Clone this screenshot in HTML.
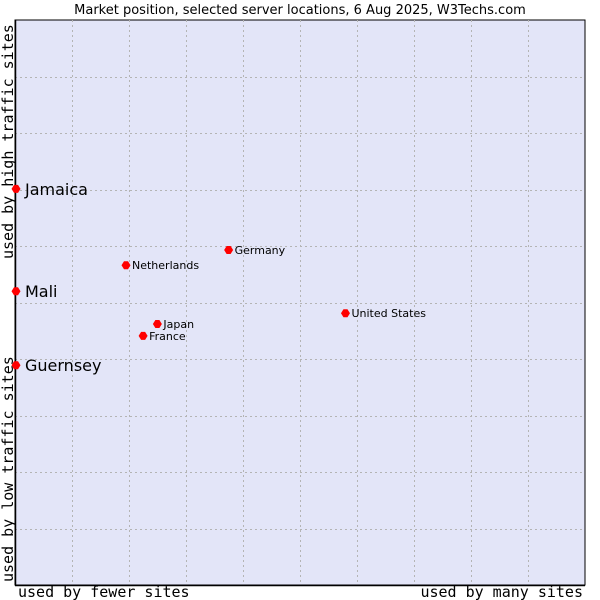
<!DOCTYPE html>
<html><head><meta charset="utf-8"><style>
body{margin:0;background:#fff;}
svg{display:block;}
</style></head><body>
<svg id="chart" width="600" height="600" xmlns="http://www.w3.org/2000/svg">
<rect width="600" height="600" fill="#fff"/>
<text x="300" y="14" text-anchor="middle" font-family="DejaVu Sans, Liberation Sans, sans-serif" font-size="13">Market position, selected server locations, 6 Aug 2025, W3Techs.com</text>
<rect x="15" y="20" width="570" height="565" fill="#e3e5f8" stroke="#000" stroke-width="1"/>
<g id="grid"></g>
<line x1="15.5" y1="20" x2="15.5" y2="585" stroke="#000" stroke-width="1.5"/>
<line x1="15" y1="585.5" x2="585" y2="585.5" stroke="#000" stroke-width="1.5"/>
<g id="marks"></g>
<text x="18" y="597" font-family="DejaVu Sans Mono, Liberation Mono, monospace" font-size="15">used by fewer sites</text>
<text x="583" y="597" text-anchor="end" font-family="DejaVu Sans Mono, Liberation Mono, monospace" font-size="15">used by many sites</text>
<text transform="translate(13,582) rotate(-90)" font-family="DejaVu Sans Mono, Liberation Mono, monospace" font-size="15">used by low traffic sites</text>
<text transform="translate(13,259) rotate(-90)" font-family="DejaVu Sans Mono, Liberation Mono, monospace" font-size="15">used by high traffic sites</text>
</svg>
<script>
const names = ["Jamaica","Mali","Guernsey","Germany","Netherlands","United States","Japan","France"];
const xValues = [0,0,0,37.3,19.3,57.8,24.8,22.3];
const yValues = [70.1,52.0,38.9,59.3,56.6,48.1,46.2,44.1];
const bigLabel = [true,true,true,false,false,false,false,false];
const NS="http://www.w3.org/2000/svg";
const X0=15,X1=585,Y0=585,Y1=20;
function sx(v){return X0+(X1-X0)*v/100;}
function sy(v){return Y0-(Y0-Y1)*v/100;}
const grid=document.getElementById('grid');
for(let i=1;i<10;i++){
  const v=document.createElementNS(NS,'line');
  
  
  const x=Math.round(sx(i*10))+0.5;
  v.setAttribute('x1',x);v.setAttribute('x2',x);v.setAttribute('y1',Y1);v.setAttribute('y2',Y0);
  v.setAttribute('stroke','#b4b4b4');v.setAttribute('stroke-dasharray','2,3');
  grid.appendChild(v);
  const h=document.createElementNS(NS,'line');
  
  
  const y=Math.round(sy(i*10))+0.5;
  h.setAttribute('x1',X0);h.setAttribute('x2',X1);h.setAttribute('y1',y);h.setAttribute('y2',y);
  h.setAttribute('stroke','#b4b4b4');h.setAttribute('stroke-dasharray','2,3');
  grid.appendChild(h);
}
const marks=document.getElementById('marks');
names.forEach((n,i)=>{
  const x=sx(xValues[i])+1,y=sy(yValues[i]);
  const p=document.createElementNS(NS,'path');
  
  
  p.setAttribute('d',`M${x-4.5},${y} L${x-2},${y-4} L${x+2},${y-4} L${x+4.5},${y} L${x+2},${y+4} L${x-2},${y+4} Z`);
  p.setAttribute('fill','#f00');
  marks.appendChild(p);
  const t=document.createElementNS(NS,'text');
  
  
  t.setAttribute('font-family','DejaVu Sans, Liberation Sans, sans-serif');
  if(bigLabel[i]){t.setAttribute('font-size','16');t.setAttribute('x',x+9);t.setAttribute('y',y+6);}
  else{t.setAttribute('font-size','11');t.setAttribute('x',x+6);t.setAttribute('y',y+4);}
  t.textContent=n;
  marks.appendChild(t);
});
</script>
</body></html>
